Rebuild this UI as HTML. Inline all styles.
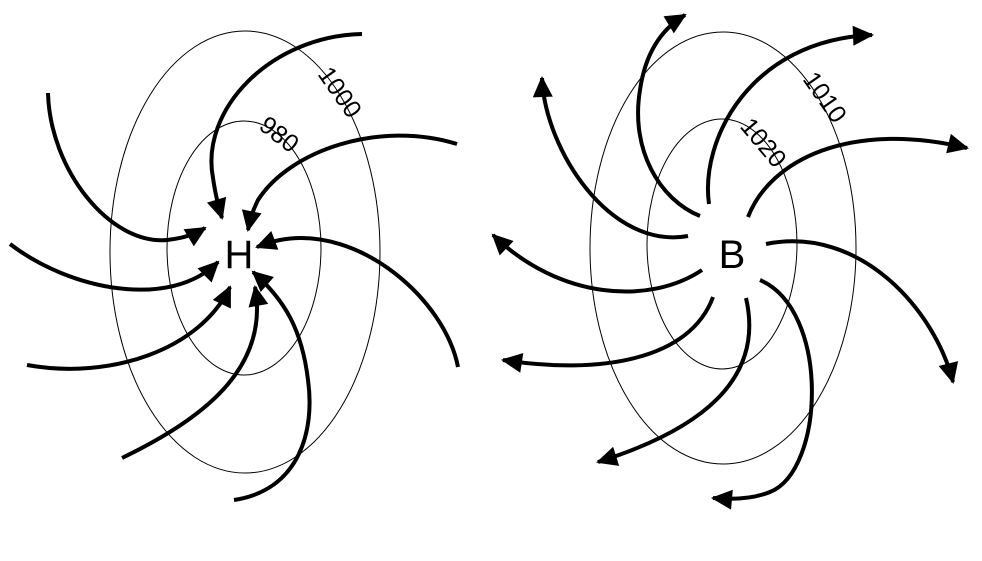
<!DOCTYPE html>
<html><head><meta charset="utf-8"><style>html,body{margin:0;padding:0;background:#fff}svg{display:block}</style></head>
<body>
<svg width="982" height="561" viewBox="0 0 982 561" xmlns="http://www.w3.org/2000/svg">
<defs>
<marker id="a" markerUnits="userSpaceOnUse" markerWidth="24" markerHeight="22" refX="19" refY="10" orient="auto" overflow="visible">
<path d="M0,0 L21,10 L0,20 Z" fill="#000"/>
</marker>
</defs>
<g fill="none" stroke="#000" stroke-width="1">
<ellipse cx="245" cy="252" rx="135" ry="221"/>
<ellipse cx="244" cy="248" rx="77" ry="127"/>
<ellipse cx="723" cy="248" rx="133" ry="216"/>
<ellipse cx="722" cy="244" rx="75" ry="125"/>
</g>
<g fill="none" stroke="#000" stroke-width="4" marker-end="url(#a)">
<path d="M362,34 C270,36 200,110 213,178 C216,198 219,208 222,218"/>
<path d="M457,144 C380,120 290,150 258,200 C252,212 250,220 248,230"/>
<path d="M48,93 C50,170 110,245 167,240 C185,238 195,234 205,228"/>
<path d="M10,244 C70,290 170,310 218,262"/>
<path d="M27,365 C110,380 200,350 230,287"/>
<path d="M122,458 C200,420 270,370 255,287"/>
<path d="M234,500 C300,490 315,430 308,380 C302,330 285,300 253,272"/>
<path d="M458,367 C445,300 360,225 280,240 C270,242 265,244 257,247"/>
<path d="M700,216 C660,200 630,150 640,90 C645,55 660,30 685,15"/>
<path d="M709,204 C700,140 750,40 872,35"/>
<path d="M688,236 C610,250 545,150 542,78"/>
<path d="M748,217 C770,160 850,120 967,148"/>
<path d="M702,270 C650,305 560,300 493,235"/>
<path d="M766,244 C860,225 935,310 953,382"/>
<path d="M713,297 C690,360 600,375 503,360"/>
<path d="M746,298 C765,380 700,430 598,462"/>
<path d="M760,280 C830,310 825,470 770,492 C755,498 735,500 713,498"/>
</g>
<g font-family="Liberation Sans, sans-serif" fill="#000">
<text x="239" y="268" font-size="40" text-anchor="middle">H</text>
<text x="732" y="268" font-size="40" text-anchor="middle">B</text>
<text x="0" y="0" font-size="25" text-anchor="middle" transform="translate(333,97) rotate(55)">1000</text>
<text x="0" y="0" font-size="25" text-anchor="middle" transform="translate(274,141) rotate(38)">980</text>
<text x="0" y="0" font-size="25" text-anchor="middle" transform="translate(818,102) rotate(55)">1010</text>
<text x="0" y="0" font-size="25" text-anchor="middle" transform="translate(757,148) rotate(50)">1020</text>
</g>
</svg>
</body></html>
